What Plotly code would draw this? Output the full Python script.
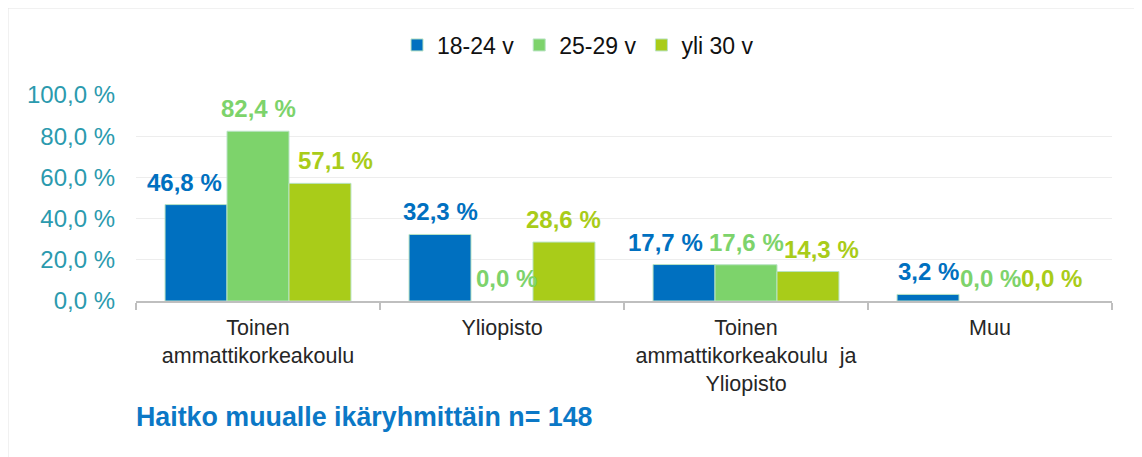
import plotly.graph_objects as go

categories = ["Toinen<br>ammattikorkeakoulu", "Yliopisto",
              "Toinen<br>ammattikorkeakoulu  ja<br>Yliopisto", "Muu"]
series_names = ["18-24 v", "25-29 v", "yli 30 v"]
values_18_24 = [46.8, 32.3, 17.7, 3.2]
values_25_29 = [82.4, 0.0, 17.6, 0.0]
values_yli_30 = [57.1, 28.6, 14.3, 0.0]
colors = ["#0070C0", "#7DD36B", "#A9CC19"]
y_ticks = [0, 20, 40, 60, 80, 100]
title_text = "Haitko muualle ikäryhmittäin n= 148"


def fmt(v):
    return f"{v:.1f} %".replace(".", ",")


# page body has an 8px margin, so the figure is drawn 8px smaller
OFF = 8
W, H = 1142 - OFF, 457 - OFF
L, R, T, B = 136 - OFF, 30, 95 - OFF, 156
pw, ph = W - L - R, H - T - B


def px(x):  # page pixel -> paper
    return (x - OFF - L) / pw


def py(y):  # page pixel -> paper
    return (H - B - (y - OFF)) / ph


bar_px = pw / len(categories) * (1 - 0.238) / 3
# (series, category) -> horizontal label nudge in px (label collision avoidance)
label_nudge = {(0, 0): -12, (2, 0): 16, (1, 1): 4, (0, 2): -19, (2, 2): 14}

fig = go.Figure()
annotations = []
all_vals = [values_18_24, values_25_29, values_yli_30]
for s, (name, vals, col) in enumerate(zip(series_names, all_vals, colors)):
    fig.add_trace(go.Bar(
        x=categories, y=vals, name=name,
        marker=dict(color=col, line=dict(color="#B9E3C4",
                                         width=[1 if v > 0 else 0 for v in vals])),
    ))
    for i, v in enumerate(vals):
        annotations.append(dict(
            x=categories[i], y=v, xref="x", yref="y", text=fmt(v), showarrow=False,
            xanchor="center", yanchor="bottom",
            xshift=(s - 1) * bar_px + label_nudge.get((s, i), 0), yshift=7,
            font=dict(family="Liberation Sans", size=24, color=col, weight="bold"),
        ))

annotations.append(dict(
    text=title_text, xref="paper", yref="paper", x=px(134), y=py(417),
    xanchor="left", yanchor="middle", showarrow=False,
    font=dict(family="Liberation Sans", size=26.8, color="#0B78C6", weight="bold")))

fig.update_layout(
    width=W, height=H,
    margin=dict(l=L, r=R, t=T, b=B, autoexpand=False),
    paper_bgcolor="white", plot_bgcolor="white",
    barmode="group", bargap=0.238, bargroupgap=0,
    font=dict(family="Liberation Sans", color="#262626"),
    showlegend=True,
    legend=dict(orientation="h", x=px(578), xanchor="center", y=py(45), yanchor="middle",
                font=dict(size=23, color="#111111"), traceorder="normal",
                itemwidth=30, bgcolor="rgba(0,0,0,0)"),
    xaxis=dict(showline=True, linecolor="#BFBFBF", linewidth=2,
               ticks="outside", tickson="boundaries", ticklen=7, tickcolor="#BFBFBF", tickwidth=2,
               tickfont=dict(size=21.5, color="#262626"), showgrid=False, ticklabelstandoff=6),
    yaxis=dict(range=[0, 100], tickvals=y_ticks, ticktext=[fmt(v) for v in y_ticks],
               tickfont=dict(size=24, color="#2B9AAE"), showgrid=True, gridcolor="#EDEDED",
               gridwidth=1, zeroline=False, showline=False, ticks="", ticklabelstandoff=20),
    shapes=[
        dict(type="line", xref="paper", yref="paper", x0=px(6), x1=px(1142), y0=py(7), y1=py(7),
             line=dict(color="#E3E3E3", width=3)),
        dict(type="line", xref="paper", yref="paper", x0=px(7), x1=px(7), y0=py(7), y1=py(457),
             line=dict(color="#E3E3E3", width=3)),
        dict(type="line", xref="paper", yref="paper", x0=px(1140), x1=px(1140), y0=py(7), y1=py(457),
             line=dict(color="#EBEBEB", width=2)),
    ],
    annotations=annotations,
)

fig.write_html("out.html")
